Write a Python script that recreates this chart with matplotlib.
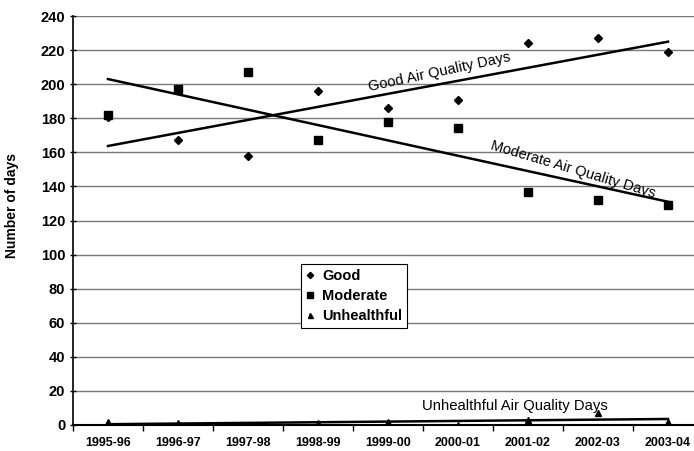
import numpy as np
import matplotlib
matplotlib.use("Agg")
from matplotlib import pyplot as plt

plt.rcParams['font.family'] = ['Liberation Sans', 'DejaVu Sans']

seasons = ["1995-96", "1996-97", "1997-98", "1998-99", "1999-00",
           "2000-01", "2001-02", "2002-03", "2003-04"]
good = [181, 167, 158, 196, 186, 191, 224, 227, 219]
moderate = [182, 197, 207, 167, 178, 174, 137, 132, 129]
unhealthful = [2, 1, 0, 1, 2, 0, 3, 7, 2]
y_ticks = list(range(0, 241, 20))

fig = plt.figure(figsize=(6.94, 4.51), dpi=100)
ax = fig.add_axes([73 / 694, 1 - 425 / 451, 630 / 694, 409 / 451])

x = np.arange(len(seasons))

# Linear trend lines (Excel-style)
for vals in (good, moderate, unhealthful):
    k, b = np.polyfit(x, vals, 1)
    ax.plot([0, x[-1]], [b, b + k * x[-1]], color="black", lw=1.8, zorder=3)

ax.plot(x, good, ls="none", marker="D", ms=4, color="black", label="Good", zorder=4)
ax.plot(x, moderate, ls="none", marker="s", ms=5.5, color="black", label="Moderate", zorder=4)
ax.plot(x, unhealthful, ls="none", marker="^", ms=4.5, color="black", label="Unhealthful", zorder=4)

# Trend labels
ax.text(4.74, 207, "Good Air Quality Days", fontsize=10.5, rotation=12,
        ha="center", va="center", rotation_mode="anchor")
ax.text(6.64, 150, "Moderate Air Quality Days", fontsize=10.5, rotation=-16.5,
        ha="center", va="center", rotation_mode="anchor")
ax.text(5.81, 11.3, "Unhealthful Air Quality Days", fontsize=10.7, ha="center", va="center")

ax.set_xlim(-0.5, len(seasons) - 0.5)
ax.set_ylim(0, 240)
ax.set_yticks(y_ticks)
ax.set_xticks(x)
ax.set_xticklabels(seasons, fontsize=9, fontweight="bold")
ax.set_xticks(np.arange(-0.5, len(seasons)), minor=True)
ax.tick_params(axis="x", which="major", length=0, pad=9)
ax.tick_params(axis="x", which="minor", length=4, direction="out", width=1)
ax.tick_params(axis="y", labelsize=10.5, length=5, direction="inout", width=1, pad=3)
for lab in ax.get_yticklabels():
    lab.set_fontweight("bold")

ax.grid(axis="y", color="#7a7a7a", lw=1)
ax.set_axisbelow(True)
for s in ("top", "right"):
    ax.spines[s].set_visible(False)
ax.spines["left"].set_linewidth(1.2)
ax.spines["bottom"].set_linewidth(1.5)

ax.set_ylabel("Number of days", fontsize=10, fontweight="bold")
ax.yaxis.set_label_coords(-(73 - 19) / 630, (425 - 205) / 409)

leg = ax.legend(loc="upper left", bbox_to_anchor=((301 - 73) / 630, (425 - 264) / 409),
                frameon=True, fancybox=False, edgecolor="black", framealpha=1,
                prop={"weight": "bold", "size": 10.5}, handlelength=0.6, handletextpad=0.5,
                borderpad=0.35, labelspacing=0.4, markerscale=0.8, borderaxespad=0)
leg.get_frame().set_linewidth(0.8)

fig.savefig("out.png", dpi=100)
